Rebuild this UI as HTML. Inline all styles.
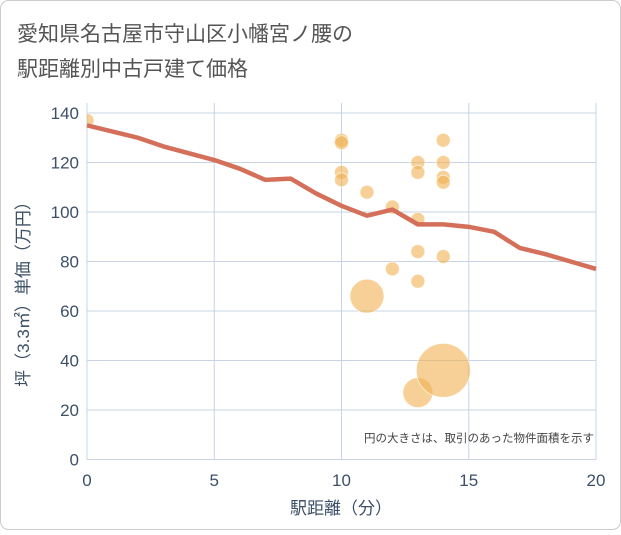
<!DOCTYPE html>
<html><head><meta charset="utf-8"><style>
body{margin:0;background:#fff}
.f{font-family:"Liberation Sans","Noto Sans CJK JP",sans-serif}
</style></head><body>
<svg width="621" height="530" xmlns="http://www.w3.org/2000/svg" class="f">
<rect x="0.5" y="0.5" width="620" height="529" rx="8" fill="#fff" stroke="#ccc"/>
<text x="17" y="41" font-size="21" fill="#555">愛知県名古屋市守山区小幡宮ノ腰の</text>
<text x="17" y="76" font-size="21" fill="#555">駅距離別中古戸建て価格</text>
<g id="grid"></g>
<g id="pts"></g>
<g id="line"></g>
<g id="axes"></g>
<text x="594" y="442" font-size="11.5" fill="#444" text-anchor="end">円の大きさは、取引のあった物件面積を示す</text>
<text x="341" y="514" font-size="17" fill="#3d5068" text-anchor="middle">駅距離（分）</text>
<text transform="translate(29,290) rotate(-90)" font-size="17" fill="#3d5068" text-anchor="middle">坪（3.3㎡）単価（万円）</text>
</svg>
<script>
const xTicks=[0,5,10,15,20];
const yTicks=[0,20,40,60,80,100,120,140];
const lineX=[0,2,3,5,6,7,8,9,10,11,12,13,14,15,16,17,18,19,20];
const lineY=[135,130,126.5,121,117.5,113,113.5,107.5,102.5,98.5,101,95,95,94,92,85.5,83,80,77];
const ptX=[0,10,10,10,10,11,12,12,13,13,13,13,13,14,14,14,14,14,11,13,14];
const ptY=[137,129,128,116,113,108,102,77,120,116,97,84,72,129,120,114,112,82,66,27,36];
const ptR=[7,7,7,7,7,7,7,7,7,7,7,7,7,7,7,7,7,7,17,15,27];
const X0=87,X1=596,Y0=459.5,Y1=113;
const sx=v=>X0+(X1-X0)*v/20, sy=v=>Y0-(Y0-Y1)*v/140;
const NS="http://www.w3.org/2000/svg";
function mk(p,t,a){const e=document.createElementNS(NS,t);for(const k in a)e.setAttribute(k,a[k]);p.appendChild(e);return e;}
const g=document.getElementById('grid'),ax=document.getElementById('axes');
mk(g,'rect',{x:X0,y:103,width:X1-X0,height:Y0-103,fill:'#fff'});
xTicks.forEach(v=>{const l=mk(g,'line',{x1:sx(v),x2:sx(v),y1:103,y2:Y0,stroke:'#c8d4e3'});


const t=mk(ax,'text',{x:sx(v),y:486,'font-size':17,fill:'#3d5068','text-anchor':'middle'});t.textContent=v;

});
yTicks.forEach(v=>{const l=mk(g,'line',{x1:X0,x2:X1,y1:sy(v),y2:sy(v),stroke:'#c8d4e3'});


const t=mk(ax,'text',{x:79,y:sy(v)+6,'font-size':17,fill:'#3d5068','text-anchor':'end'});t.textContent=v;

});
const p=document.getElementById('pts');
ptX.forEach((v,i)=>{const c=mk(p,'circle',{cx:sx(v),cy:sy(ptY[i]),r:ptR[i],fill:'#f0b050','fill-opacity':0.6,stroke:'#fff','stroke-opacity':0.6});

});
const cp=mk(p,'clipPath',{id:'cl'});mk(cp,'rect',{x:X0,y:103,width:X1-X0,height:Y0-103});p.setAttribute('clip-path','url(#cl)');
const pl=mk(document.getElementById('line'),'polyline',{points:lineX.map((v,i)=>sx(v)+','+sy(lineY[i])).join(' '),fill:'none',stroke:'#d4705a','stroke-width':4.5,'stroke-linejoin':'round'});


</script>
</body></html>
